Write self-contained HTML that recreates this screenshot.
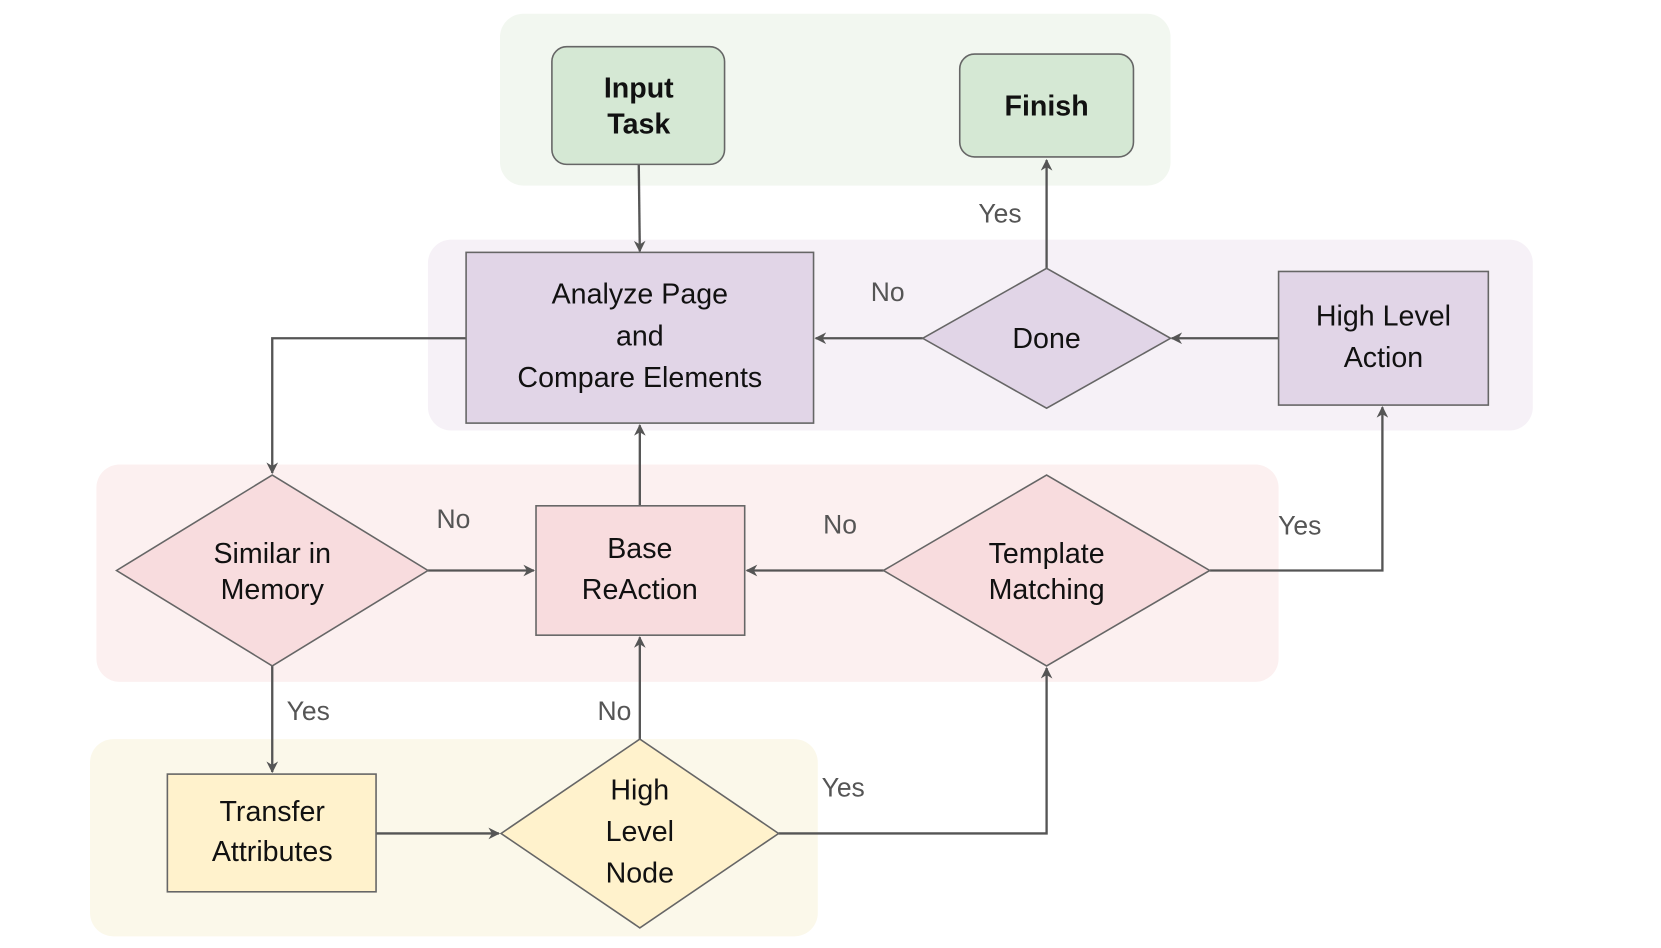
<!DOCTYPE html>
<html><head><meta charset="utf-8"><style>html,body{margin:0;padding:0;background:#fff}svg{display:block}</style></head>
<body>
<svg width="1661" height="948" viewBox="0 0 1568 894" preserveAspectRatio="none" xmlns="http://www.w3.org/2000/svg" font-family="Liberation Sans, sans-serif">
<defs><marker id="a" viewBox="0 0 10 10" refX="9" refY="5" markerWidth="5" markerHeight="5" orient="auto"><path d="M0,0 L10,5 L0,10 L3,5z" fill="#555"/></marker></defs>
<rect x="472" y="13" width="633" height="162" rx="22" fill="#f2f7f0"/>
<rect x="404" y="226" width="1043" height="180" rx="22" fill="#f6f1f7"/>
<rect x="91" y="438" width="1116" height="205" rx="22" fill="#fcf0f0"/>
<rect x="85" y="697" width="687" height="186" rx="22" fill="#fbf8ea"/>
<g stroke="#555" stroke-width="2.2" fill="none" marker-end="url(#a)">
<path d="M603,155 L604,237"/>
<path d="M988,253 L988,151"/>
<path d="M871,319 L770,319"/>
<path d="M1207,319 L1106,319"/>
<path d="M440,319 L257,319 L257,446"/>
<path d="M404,538 L504,538"/>
<path d="M834,538 L705,538"/>
<path d="M1142,538 L1305,538 L1305,384"/>
<path d="M604,477 L604,401"/>
<path d="M257,628 L257,728"/>
<path d="M355,786 L471,786"/>
<path d="M604,697 L604,601"/>
<path d="M735,786 L988,786 L988,630"/>
</g>
<g stroke="#666" stroke-width="1.5">
<rect x="521" y="44" width="163" height="111" rx="14" fill="#d5e8d4"/>
<rect x="906" y="51" width="164" height="97" rx="14" fill="#d5e8d4"/>
<rect x="440" y="238" width="328" height="161" fill="#e1d5e7"/>
<polygon points="871,319 988,253 1105,319 988,385" fill="#e1d5e7"/>
<rect x="1207" y="256" width="198" height="126" fill="#e1d5e7"/>
<polygon points="110,538 257,448 404,538 257,628" fill="#f8dcde"/>
<rect x="506" y="477" width="197" height="122" fill="#f8dcde"/>
<polygon points="834,538 988,448 1142,538 988,628" fill="#f8dcde"/>
<rect x="158" y="730" width="197" height="111" fill="#fff2cc"/>
<polygon points="473,786 604,697 735,786 604,875" fill="#fff2cc"/>
</g>
<g font-size="27" text-anchor="middle" fill="#111">
<text x="603" y="92" font-weight="bold">Input</text><text x="603" y="126" font-weight="bold">Task</text>
<text x="988" y="109" font-weight="bold">Finish</text>
<text x="604" y="286">Analyze Page</text><text x="604" y="326">and</text><text x="604" y="365">Compare Elements</text>
<text x="988" y="328">Done</text>
<text x="1306" y="307">High Level</text><text x="1306" y="346">Action</text>
<text x="257" y="531">Similar in</text><text x="257" y="565">Memory</text>
<text x="604" y="526">Base</text><text x="604" y="565">ReAction</text>
<text x="988" y="531">Template</text><text x="988" y="565">Matching</text>
<text x="257" y="774">Transfer</text><text x="257" y="812">Attributes</text>
<text x="604" y="754">High</text><text x="604" y="793">Level</text><text x="604" y="832">Node</text>
</g>
<g font-size="25" text-anchor="middle" fill="#555">
<text x="944" y="210">Yes</text>
<text x="838" y="284">No</text>
<text x="428" y="498">No</text>
<text x="793" y="503">No</text>
<text x="1227" y="504">Yes</text>
<text x="291" y="679">Yes</text>
<text x="580" y="679">No</text>
<text x="796" y="751">Yes</text>
</g>
</svg>
</body></html>
